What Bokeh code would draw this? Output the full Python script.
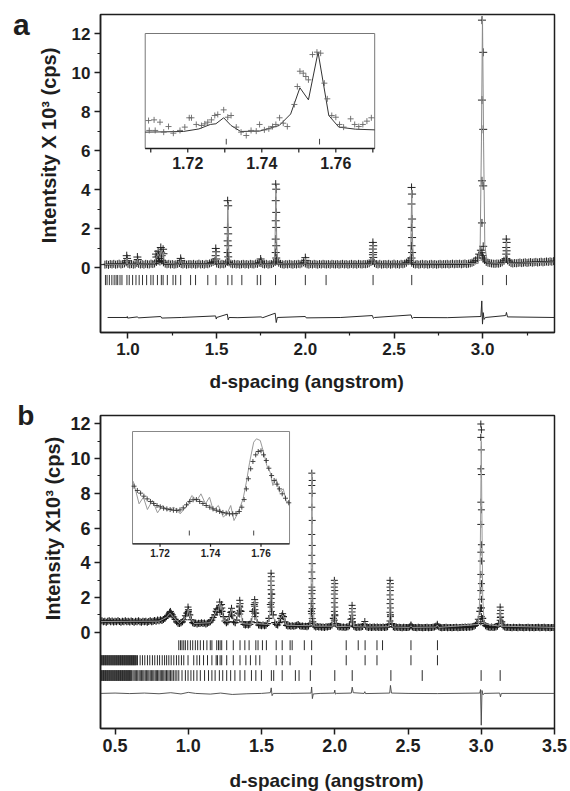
import math
from bokeh.plotting import figure
from bokeh.layouts import column
from bokeh.models import Range1d, FixedTicker, Label, PrintfTickFormatter
from bokeh.embed import file_html
from bokeh.resources import INLINE
from bokeh.core.properties import value

FONT = "Liberation Sans"
INK = "#1e1e1e"

# ============================ DATA : panel a ============================
a_grid_start = 0.87
a_grid_step = 0.01
a_obs_bg = [
    0.16, 0.18, 0.15, 0.19, 0.17, 0.20, 0.16, 0.18, 0.21, 0.17,
    0.19, 0.22, 0.28, 0.20, 0.17, 0.19, 0.16, 0.18, 0.24, 0.20,
    0.17, 0.19, 0.16, 0.20, 0.18, 0.17, 0.21, 0.19, 0.22, 0.30,
    0.36, 0.32, 0.38, 0.28, 0.21, 0.18, 0.20, 0.17, 0.19, 0.16,
    0.18, 0.20, 0.24, 0.19, 0.17, 0.20, 0.16, 0.18, 0.19, 0.17,
    0.20, 0.16, 0.18, 0.21, 0.17, 0.19, 0.16, 0.20, 0.18, 0.22,
    0.26, 0.30, 0.34, 0.22, 0.19, 0.17, 0.20, 0.18, 0.22, 0.30,
    0.28, 0.21, 0.18, 0.20, 0.17, 0.19, 0.16, 0.18, 0.20, 0.17,
    0.19, 0.16, 0.20, 0.18, 0.17, 0.21, 0.20, 0.26, 0.24, 0.19,
    0.17, 0.20, 0.16, 0.18, 0.19, 0.24, 0.30, 0.34, 0.26, 0.20,
    0.18, 0.16, 0.19, 0.17, 0.20, 0.18, 0.16, 0.19, 0.17, 0.20,
    0.18, 0.22, 0.28, 0.22, 0.18, 0.16, 0.19, 0.17, 0.20, 0.18,
    0.16, 0.19, 0.17, 0.20, 0.18, 0.17, 0.19, 0.16, 0.20, 0.18,
    0.17, 0.19, 0.16, 0.18, 0.20, 0.17, 0.19, 0.16, 0.18, 0.20,
    0.17, 0.19, 0.16, 0.20, 0.18, 0.17, 0.19, 0.18, 0.20, 0.23,
    0.30, 0.34, 0.24, 0.19, 0.17, 0.20, 0.16, 0.18, 0.19, 0.17,
    0.20, 0.16, 0.18, 0.21, 0.17, 0.19, 0.16, 0.20, 0.18, 0.21,
    0.26, 0.34, 0.38, 0.26, 0.20, 0.17, 0.19, 0.16, 0.18, 0.20,
    0.17, 0.19, 0.16, 0.18, 0.20, 0.17, 0.19, 0.16, 0.18, 0.20,
    0.17, 0.19, 0.18, 0.20, 0.17, 0.19, 0.21, 0.18, 0.20, 0.19,
    0.21, 0.18, 0.20, 0.22, 0.19, 0.21, 0.23, 0.26, 0.30, 0.38,
    0.50, 0.70, 0.90, 0.62, 0.40, 0.30, 0.26, 0.24, 0.22, 0.21,
    0.20, 0.22, 0.21, 0.24, 0.28, 0.36, 0.46, 0.38, 0.30, 0.24,
    0.22, 0.24, 0.23, 0.25, 0.27, 0.24, 0.26, 0.28, 0.25, 0.27,
    0.29, 0.26, 0.28, 0.30, 0.27, 0.29, 0.31, 0.28, 0.30, 0.32,
    0.30, 0.33, 0.31, 0.34,
]
a_obs_pk_d = [
    0.993, 0.995, 0.994,
    1.053, 1.055,
    1.158, 1.160, 1.170, 1.172, 1.178, 1.185, 1.187, 1.190, 1.198, 1.200,
    1.297, 1.299,
    1.495, 1.497, 1.494, 1.498,
    1.562, 1.565, 1.562, 1.565, 1.562, 1.565, 1.562, 1.565,
    1.748, 1.750,
    1.833, 1.836, 1.833, 1.836, 1.833, 1.836, 1.833, 1.836, 1.833, 1.836,
    2.000, 2.002,
    2.381, 2.383, 2.381, 2.383, 2.381, 2.383,
    2.599, 2.602, 2.599, 2.602, 2.599, 2.602, 2.599, 2.602, 2.599,
    2.996, 3.003, 2.996, 3.003, 2.996, 3.003, 2.996, 3.003, 2.996, 3.003,
    3.133, 3.135, 3.133, 3.135, 3.133, 3.135,
]
a_obs_pk_I = [
    0.62, 0.48, 0.36,
    0.55, 0.42,
    0.70, 0.55, 0.85, 0.60, 0.48, 1.04, 0.80, 0.62, 0.95, 0.72,
    0.48, 0.36,
    0.99, 0.82, 0.62, 0.45,
    3.44, 3.18, 2.07, 1.74, 1.38, 1.13, 0.78, 0.56,
    0.45, 0.34,
    4.29, 4.03, 3.44, 2.84, 2.41, 2.07, 1.47, 1.13, 0.78, 0.50,
    0.52, 0.38,
    1.30, 1.13, 0.96, 0.78, 0.67, 0.53,
    4.12, 3.78, 3.27, 2.50, 2.07, 1.55, 1.13, 0.78, 0.50,
    12.70, 11.05, 8.60, 7.10, 4.46, 4.20, 2.30, 1.10, 0.77, 0.50,
    1.47, 1.30, 1.04, 0.87, 0.70, 0.45,
]
a_calc_d = [0.87, 0.99, 0.994, 0.998, 1.05, 1.054, 1.058, 1.15, 1.16, 1.17, 1.18, 1.187,
            1.195, 1.20, 1.205, 1.29, 1.297, 1.303, 1.488, 1.496, 1.503, 1.553, 1.558,
            1.563, 1.568, 1.573, 1.745, 1.748, 1.751, 1.824, 1.829, 1.834, 1.839, 1.845,
            1.996, 2.000, 2.004, 2.373, 2.378, 2.382, 2.386, 2.392, 2.590, 2.595, 2.600,
            2.605, 2.612, 2.975, 2.986, 2.993, 2.999, 3.005, 3.012, 3.025, 3.125, 3.130,
            3.134, 3.138, 3.145, 3.40]
a_calc_I = [0.17, 0.18, 0.50, 0.18, 0.18, 0.45, 0.18, 0.20, 0.55, 0.70, 0.50, 0.90,
            0.60, 0.80, 0.22, 0.18, 0.42, 0.18, 0.18, 0.85, 0.18, 0.18, 1.00,
            3.30, 1.00, 0.20, 0.18, 0.40, 0.18, 0.18, 1.20, 4.20, 1.20, 0.20,
            0.18, 0.48, 0.18, 0.18, 0.50, 1.25, 0.50, 0.18, 0.20, 1.20, 4.00,
            1.20, 0.20, 0.22, 1.20, 6.50, 12.90, 6.50, 1.20, 0.25, 0.22, 0.60,
            1.35, 0.60, 0.22, 0.30]
a_diff_d = [0.885, 0.994, 0.996, 0.998, 1.054, 1.058, 1.185, 1.190, 1.300, 1.494, 1.498,
            1.500, 1.560, 1.565, 1.570, 1.620, 1.750, 1.760, 1.830, 1.836, 1.842, 2.000,
            2.005, 2.200, 2.378, 2.384, 2.390, 2.596, 2.602, 2.610, 2.800, 2.990, 2.995,
            2.999, 3.003, 3.008, 3.015, 3.130, 3.134, 3.140, 3.405]
a_diff_I = [-2.55, -2.55, -2.50, -2.58, -2.52, -2.57, -2.50, -2.58, -2.55, -2.47, -2.63,
            -2.55, -2.38, -2.67, -2.55, -2.56, -2.52, -2.56, -2.33, -2.81, -2.55, -2.50,
            -2.57, -2.55, -2.45, -2.60, -2.55, -2.42, -2.60, -2.55, -2.56, -2.50, -1.70,
            -2.89, -2.30, -2.65, -2.55, -2.45, -2.29, -2.52, -2.55]
a_refl = [0.873, 0.882, 0.895, 0.909, 0.922, 0.933, 0.942, 0.955, 0.966, 0.994, 1.007,
          1.026, 1.045, 1.063, 1.082, 1.105, 1.129, 1.142, 1.166, 1.188, 1.198, 1.222,
          1.254, 1.269, 1.297, 1.353, 1.381, 1.450, 1.496, 1.563, 1.586, 1.642, 1.729,
          1.748, 1.832, 2.000, 2.117, 2.382, 2.600, 3.000, 3.134]
a_xticks = [1.0, 1.5, 2.0, 2.5, 3.0]
a_xminor = [1.25, 1.75, 2.25, 2.75, 3.25]

# inset of panel a (d in angstrom, intensity in inset units 0..100)
a_in_xlim = (1.7085, 1.7705)
a_in_obs_d = [1.7094, 1.7096, 1.7109, 1.7112, 1.7125, 1.7135, 1.7148, 1.7161, 1.7179, 1.7192,
              1.7204, 1.7210, 1.7223, 1.7237, 1.7246, 1.7254, 1.7264, 1.7273, 1.7281, 1.7297,
              1.7308, 1.7317, 1.7331, 1.7344, 1.7358, 1.7371, 1.7385, 1.7394, 1.7407, 1.7419,
              1.7429, 1.7438, 1.7448, 1.7458, 1.7469, 1.7488, 1.7496, 1.7503, 1.7512, 1.7519,
              1.7526, 1.7537, 1.7549, 1.7559, 1.7569, 1.7577, 1.7589, 1.7600, 1.7610, 1.7621,
              1.7640, 1.7651, 1.7662, 1.7673, 1.7684, 1.7696]
a_in_obs_I = [24.3, 15.7, 24.9, 15.7, 22.9, 14.2, 19.1, 13.3, 15.7, 18.6,
              26.7, 26.7, 20.9, 20.0, 21.4, 22.9, 24.9, 28.7, 29.6, 33.6,
              27.2, 28.7, 18.6, 14.2, 11.3, 15.7, 15.1, 20.9, 16.2, 17.1,
              19.1, 20.9, 26.7, 22.0, 19.1, 38.3, 53.9, 67.2, 65.5, 62.6,
              59.7, 81.7, 83.8, 82.9, 56.8, 43.2, 28.7, 27.2, 20.9, 18.6,
              25.8, 20.9, 19.1, 20.9, 23.8, 26.7]
a_in_calc_d = [1.7085, 1.7188, 1.7230, 1.7261, 1.7276, 1.7297, 1.7317, 1.7343, 1.7395,
               1.7447, 1.7478, 1.7503, 1.7526, 1.7552, 1.7581, 1.7608, 1.7653, 1.7705]
a_in_calc_I = [14.2, 14.8, 17.0, 20.9, 21.5, 26.7, 20.0, 14.8, 15.2,
               20.0, 30.0, 52.8, 42.3, 83.8, 28.7, 18.6, 16.8, 16.2]
a_in_refl = [1.7304, 1.7556]
a_in_ticks = [1.72, 1.74, 1.76]
a_in_minor = [1.71, 1.73, 1.75, 1.77]

# ============================ DATA : panel b ============================
b_grid_start = 0.40
b_grid_step = 0.01
b_obs_bg = [
    0.62, 0.66, 0.60, 0.64, 0.58, 0.63, 0.67, 0.61, 0.65, 0.59,
    0.63, 0.60, 0.66, 0.62, 0.58, 0.64, 0.61, 0.67, 0.60, 0.63,
    0.59, 0.65, 0.62, 0.58, 0.64, 0.60, 0.66, 0.61, 0.57, 0.63,
    0.60, 0.64, 0.58, 0.62, 0.66, 0.60, 0.63, 0.68, 0.64, 0.70,
    0.66, 0.72, 0.68, 0.74, 0.80, 0.90, 0.98, 1.05, 1.08, 1.00,
    0.88, 0.74, 0.60, 0.52, 0.50, 0.55, 0.60, 0.72, 0.95, 1.10,
    1.20, 1.00, 0.72, 0.55, 0.50, 0.54, 0.48, 0.52, 0.50, 0.55,
    0.50, 0.53, 0.48, 0.52, 0.56, 0.60, 0.70, 0.85, 1.00, 1.20,
    1.30, 1.40, 1.35, 1.20, 0.90, 0.65, 0.55, 0.60, 0.90, 1.15,
    0.95, 0.60, 0.55, 0.70, 1.10, 1.50, 1.20, 0.60, 0.45, 0.42,
    0.45, 0.42, 0.46, 0.60, 1.20, 1.60, 1.10, 0.55, 0.42, 0.40,
    0.38, 0.42, 0.38, 0.40, 0.50, 0.80, 1.60, 2.20, 1.00, 0.55,
    0.45, 0.42, 0.55, 0.80, 0.95, 0.90, 0.60, 0.40, 0.36, 0.38,
    0.35, 0.38, 0.34, 0.37, 0.40, 0.45, 0.38, 0.34, 0.36, 0.33,
    0.35, 0.32, 0.36, 0.50, 1.20, 0.60, 0.36, 0.30, 0.33, 0.30,
    0.32, 0.29, 0.31, 0.28, 0.32, 0.30, 0.33, 0.35, 0.42, 0.80,
    1.00, 0.50, 0.35, 0.30, 0.32, 0.29, 0.31, 0.28, 0.30, 0.32,
    0.38, 0.75, 0.60, 0.34, 0.30, 0.28, 0.31, 0.29, 0.30, 0.33,
    0.45, 0.35, 0.30, 0.28, 0.30, 0.27, 0.29, 0.31, 0.28, 0.30,
    0.27, 0.29, 0.28, 0.30, 0.27, 0.29, 0.32, 0.45, 1.00, 0.50,
    0.32, 0.28, 0.30, 0.27, 0.29, 0.28, 0.26, 0.29, 0.27, 0.28,
    0.27, 0.30, 0.36, 0.30, 0.27, 0.28, 0.26, 0.29, 0.27, 0.28,
    0.26, 0.28, 0.27, 0.29, 0.26, 0.28, 0.27, 0.29, 0.30, 0.34,
    0.38, 0.32, 0.28, 0.26, 0.28, 0.27, 0.29, 0.26, 0.28, 0.27,
    0.26, 0.28, 0.27, 0.29, 0.26, 0.28, 0.27, 0.29, 0.28, 0.30,
    0.28, 0.30, 0.29, 0.31, 0.32, 0.35, 0.40, 0.50, 0.75, 1.20,
    1.40, 0.80, 0.50, 0.38, 0.32, 0.30, 0.28, 0.30, 0.27, 0.29,
    0.30, 0.34, 0.50, 0.85, 0.60, 0.36, 0.30, 0.28, 0.29, 0.27,
    0.28, 0.26, 0.29, 0.27, 0.28, 0.26, 0.29, 0.27, 0.28, 0.26,
    0.28, 0.27, 0.29, 0.26, 0.28, 0.27, 0.26, 0.28, 0.27, 0.29,
    0.26, 0.28, 0.27, 0.29, 0.26, 0.28, 0.27, 0.26, 0.28, 0.27,
    0.28,
]
b_obs_pk_d = [
    0.872, 0.878, 0.883,
    0.998, 1.001, 0.999,
    1.194, 1.196,
    1.214, 1.216, 1.214, 1.216,
    1.227, 1.229, 1.227,
    1.295, 1.297, 1.295,
    1.351, 1.353, 1.351, 1.353, 1.351,
    1.453, 1.455, 1.453, 1.455, 1.453, 1.455,
    1.565, 1.567, 1.565, 1.567, 1.565, 1.567, 1.565, 1.567, 1.565, 1.567,
    1.644, 1.646,
    1.843, 1.846, 1.843, 1.846, 1.843, 1.846, 1.843, 1.846, 1.843, 1.846,
    1.843, 1.846, 1.843, 1.846, 1.843, 1.846, 1.843, 1.846, 1.843, 1.846,
    1.997, 2.000, 1.997, 2.000, 1.997, 2.000, 1.997, 2.000, 1.997, 2.000, 1.997,
    2.118, 2.121, 2.118, 2.121, 2.118, 2.121,
    2.205,
    2.377, 2.380, 2.377, 2.380, 2.377, 2.380, 2.377, 2.380, 2.377, 2.380, 2.377,
    2.520,
    2.700,
    2.997, 3.001, 2.997, 3.001, 2.997, 3.001, 2.997, 3.001, 2.997, 3.001,
    2.997, 3.001, 2.997, 3.001, 2.997, 3.001, 2.997, 3.001, 2.997,
    3.129, 3.132, 3.129, 3.132, 3.129,
]
b_obs_pk_I = [
    1.15, 1.20, 1.10,
    1.45, 1.30, 1.12,
    1.35, 1.15,
    1.74, 1.55, 1.35, 1.15,
    1.60, 1.40, 1.20,
    1.38, 1.20, 1.00,
    1.84, 1.65, 1.45, 1.25, 1.05,
    1.88, 1.70, 1.50, 1.30, 1.10, 0.90,
    3.40, 3.20, 2.95, 2.70, 2.45, 2.20, 1.95, 1.70, 1.45, 1.20,
    1.07, 0.90,
    9.16, 8.74, 8.45, 8.00, 7.20, 6.44, 5.63, 5.00, 4.43, 3.95,
    3.47, 3.09, 2.60, 2.41, 2.22, 1.94, 1.65, 1.36, 1.07, 0.79,
    2.99, 2.80, 2.60, 2.40, 2.20, 1.95, 1.70, 1.45, 1.20, 0.95, 0.70,
    1.55, 1.36, 1.17, 0.98, 0.79, 0.59,
    0.62,
    2.99, 2.80, 2.60, 2.40, 2.15, 1.90, 1.65, 1.40, 1.15, 0.90, 0.65,
    0.42,
    0.46,
    11.99, 11.65, 11.22, 10.50, 9.41, 9.08, 7.49, 7.05, 6.21, 5.04,
    4.61, 4.10, 3.33, 2.80, 2.40, 1.90, 1.40, 0.90, 0.60,
    1.45, 1.26, 1.07, 0.88, 0.69,
]
b_calc_d = [0.40, 0.80, 0.85, 0.875, 0.90, 0.94, 0.99, 1.00, 1.01, 1.04, 1.15, 1.19, 1.195,
            1.205, 1.215, 1.222, 1.228, 1.24, 1.27, 1.296, 1.31, 1.33, 1.352, 1.37, 1.43,
            1.454, 1.47, 1.54, 1.556, 1.566, 1.576, 1.60, 1.645, 1.67, 1.83, 1.838, 1.844,
            1.85, 1.86, 1.985, 1.992, 1.997, 2.003, 2.012, 2.11, 2.119, 2.128, 2.20, 2.205,
            2.21, 2.37, 2.374, 2.379, 2.385, 2.394, 2.51, 2.52, 2.53, 2.69, 2.70, 2.71,
            2.98, 2.99, 2.996, 3.00, 3.004, 3.01, 3.02, 3.122, 3.13, 3.138, 3.50]
b_calc_I = [0.62, 0.64, 0.85, 1.10, 0.85, 0.52, 0.90, 1.35, 0.90, 0.50, 0.55, 1.20, 1.30,
            1.20, 1.70, 1.30, 1.55, 0.70, 0.60, 1.35, 0.70, 0.60, 1.80, 0.50, 0.45,
            1.85, 0.50, 0.45, 1.00, 3.30, 1.00, 0.45, 1.00, 0.40, 0.38, 2.00, 9.20,
            2.00, 0.35, 0.35, 1.00, 3.00, 1.00, 0.32, 0.35, 1.50, 0.33, 0.30, 0.60,
            0.30, 0.32, 1.00, 2.90, 1.00, 0.30, 0.28, 0.38, 0.28, 0.30, 0.42, 0.28,
            0.45, 2.00, 7.00, 11.00, 7.00, 2.00, 0.50, 0.35, 1.40, 0.35, 0.28]
b_diff_d = [0.40, 0.50, 0.60, 0.70, 0.80, 0.88, 0.95, 1.00, 1.05, 1.15, 1.22, 1.30, 1.40,
            1.50, 1.56, 1.566, 1.572, 1.58, 1.70, 1.838, 1.842, 1.847, 1.853, 1.90, 1.996,
            2.000, 2.004, 2.010, 2.113, 2.119, 2.126, 2.20, 2.205, 2.21, 2.375, 2.380,
            2.387, 2.50, 2.70, 2.99, 2.995, 3.000, 3.005, 3.012, 3.02, 3.126, 3.131,
            3.137, 3.50]
b_diff_I = [-3.52, -3.50, -3.53, -3.50, -3.54, -3.48, -3.55, -3.46, -3.52, -3.56, -3.50,
            -3.58, -3.54, -3.52, -3.48, -3.20, -3.65, -3.52, -3.52, -3.50, -3.15, -3.82,
            -3.55, -3.52, -3.50, -3.33, -3.56, -3.52, -3.50, -3.16, -3.48, -3.52, -3.42,
            -3.53, -3.50, -3.06, -3.50, -3.52, -3.53, -3.50, -3.30, -5.35, -3.35, -3.60,
            -3.52, -3.50, -3.72, -3.52, -3.52]
b_refl_1 = [0.935, 0.947, 0.957, 0.969, 0.980, 0.996, 1.014, 1.030, 1.048, 1.064, 1.082,
            1.104, 1.127, 1.150, 1.161, 1.194, 1.206, 1.217, 1.228, 1.262, 1.307, 1.353,
            1.386, 1.415, 1.461, 1.476, 1.506, 1.533, 1.600, 1.641, 1.695, 1.709, 1.792,
            1.842, 2.078, 2.160, 2.207, 2.288, 2.326, 2.520, 2.701]
b_refl_2 = [0.402, 0.407, 0.411, 0.416, 0.421, 0.425, 0.430, 0.435, 0.439, 0.444, 0.449,
            0.453, 0.458, 0.463, 0.467, 0.472, 0.477, 0.481, 0.486, 0.491, 0.495, 0.500,
            0.505, 0.509, 0.514, 0.519, 0.523, 0.528, 0.533, 0.537, 0.542, 0.547, 0.551,
            0.556, 0.561, 0.565, 0.570, 0.575, 0.579, 0.584, 0.589, 0.593, 0.598, 0.603,
            0.607, 0.612, 0.617, 0.621, 0.626, 0.631, 0.635, 0.640, 0.645,
            0.653, 0.671, 0.687, 0.703, 0.721, 0.737, 0.755, 0.771, 0.789, 0.804, 0.822,
            0.838, 0.852, 0.867, 0.883, 0.901, 0.919, 0.935, 0.953, 0.969, 0.998, 1.037,
            1.059, 1.077, 1.104, 1.131, 1.161, 1.190, 1.199, 1.217, 1.228, 1.262, 1.307,
            1.353, 1.393, 1.424, 1.461, 1.488, 1.600, 1.641, 1.695, 1.842, 2.078, 2.207,
            2.288, 2.520, 2.701]
b_refl_3 = [0.402, 0.407, 0.411, 0.416, 0.421, 0.425, 0.430, 0.435, 0.439, 0.444, 0.449,
            0.453, 0.458, 0.463, 0.467, 0.472, 0.477, 0.481, 0.486, 0.491, 0.495, 0.500,
            0.505, 0.509, 0.514, 0.519, 0.523, 0.528, 0.533, 0.537, 0.542, 0.547, 0.551,
            0.556, 0.561, 0.565, 0.570, 0.575, 0.579, 0.584, 0.589, 0.593, 0.598, 0.603,
            0.607, 0.613, 0.622, 0.630, 0.638, 0.647, 0.655, 0.664, 0.672, 0.681, 0.689,
            0.697, 0.706, 0.714, 0.723, 0.731, 0.740, 0.748, 0.757, 0.765, 0.774, 0.782,
            0.790, 0.799, 0.808, 0.816, 0.825, 0.833, 0.842, 0.851, 0.860, 0.869, 0.878,
            0.888, 0.898, 0.910, 0.922, 0.935, 0.957, 0.980, 0.998, 1.018, 1.037, 1.059,
            1.082, 1.111, 1.138, 1.161, 1.183, 1.212, 1.235, 1.262, 1.289, 1.318, 1.353,
            1.386, 1.431, 1.461, 1.499, 1.567, 1.583, 1.641, 1.731, 1.756, 1.833, 2.000,
            2.119, 2.383, 2.597, 2.999, 3.129]
b_xticks = [0.5, 1.0, 1.5, 2.0, 2.5, 3.0, 3.5]

b_in_xlim = (1.7091, 1.7713)
b_in_obs_d = [1.7097, 1.7110, 1.7123, 1.7136, 1.7149, 1.7162, 1.7175, 1.7188, 1.7201, 1.7214,
              1.7227, 1.7240, 1.7253, 1.7266, 1.7279, 1.7292, 1.7305, 1.7318, 1.7331, 1.7344,
              1.7357, 1.7370, 1.7383, 1.7397, 1.7410, 1.7423, 1.7436, 1.7449, 1.7462, 1.7475,
              1.7488, 1.7501, 1.7514, 1.7524, 1.7533, 1.7542, 1.7550, 1.7559, 1.7568, 1.7579,
              1.7589, 1.7600, 1.7610, 1.7621, 1.7631, 1.7642, 1.7652, 1.7663, 1.7673, 1.7684,
              1.7697, 1.7710]
b_in_obs_I = [51.3, 47.5, 45.1, 42.4, 40.0, 37.7, 35.9, 34.1, 32.9, 31.7,
              31.1, 30.5, 29.9, 29.7, 30.2, 32.0, 34.7, 37.7, 39.2, 39.4,
              37.7, 35.9, 34.1, 32.6, 31.1, 29.9, 28.8, 27.9, 27.3, 26.7,
              26.7, 27.0, 28.8, 32.6, 39.4, 48.9, 57.9, 66.8, 73.3, 79.2,
              82.2, 82.8, 79.2, 74.2, 67.3, 60.8, 56.4, 53.1, 48.9, 44.5,
              40.6, 36.5]
b_in_calc_d = [1.7094, 1.7117, 1.7134, 1.7150, 1.7170, 1.7190, 1.7209, 1.7229, 1.7255, 1.7280,
               1.7307, 1.7326, 1.7346, 1.7362, 1.7380, 1.7396, 1.7411, 1.7431, 1.7451, 1.7467,
               1.7480, 1.7493, 1.7509, 1.7529, 1.7542, 1.7555, 1.7571, 1.7582, 1.7597, 1.7610,
               1.7623, 1.7636, 1.7647, 1.7660, 1.7673, 1.7688, 1.7701, 1.7712]
b_in_calc_I = [55.7, 35.6, 41.5, 30.5, 38.6, 27.6, 34.1, 29.7, 32.6, 26.7,
               34.1, 43.0, 38.6, 44.5, 35.6, 41.5, 29.7, 34.1, 23.7, 27.6,
               34.1, 20.7, 27.6, 40.0, 54.9, 72.7, 90.5, 93.5, 92.0, 81.6,
               69.7, 63.8, 51.9, 57.9, 46.0, 49.0, 37.0, 38.6]
b_in_refl = [1.7316, 1.7571]
b_in_ticks = [1.72, 1.74, 1.76]
b_in_minor = []

y_ticks = [0, 2, 4, 6, 8, 10, 12]
y_minor = [1, 3, 5, 7, 9, 11]


# ============================ helpers ============================
def grid(start, step, n):
    return [round(start + i * step, 4) for i in range(n)]


def inset_range(f_lo, f_hi, b_lo, b_hi, l_lo, l_hi):
    k = (b_hi - b_lo) / (l_hi - l_lo)
    return Range1d(l_lo - (b_lo - f_lo) / k, l_hi + (f_hi - b_hi) / k)


def style(p, xticks, xminor, tick_fs):
    for ax in (p.xaxis[0], p.yaxis[0]):
        ax.axis_line_color = INK
        ax.axis_line_width = 1.5
        ax.major_tick_line_color = INK
        ax.major_tick_line_width = 1.5
        ax.minor_tick_line_color = INK
        ax.minor_tick_line_width = 1.2
        ax.major_tick_out = 6
        ax.major_tick_in = 0
        ax.minor_tick_out = 3
        ax.minor_tick_in = 0
        ax.major_label_text_font = FONT
        ax.major_label_text_font_size = tick_fs
        ax.major_label_text_font_style = "bold"
        ax.major_label_text_color = INK
        ax.major_label_standoff = 4
    p.xaxis.ticker = FixedTicker(ticks=xticks, minor_ticks=xminor)
    p.yaxis.ticker = FixedTicker(ticks=y_ticks, minor_ticks=y_minor)
    p.xaxis.formatter = PrintfTickFormatter(format="%.1f")
    p.yaxis.formatter = PrintfTickFormatter(format="%d")
    p.xgrid.visible = False
    p.ygrid.visible = False
    p.outline_line_color = INK
    p.outline_line_width = 1.5


def outer_label(p, side, frame, xr, yr, cx, cy, text, size, angle=0.0,
                align="center", baseline="middle"):
    """Text outside the frame, positioned through the plot's own scales.
    frame = (left, right, top, bottom) canvas px; cx, cy = canvas px."""
    fl, fr, ft, fb = frame
    x = xr[0] + (cx - fl) / (fr - fl) * (xr[1] - xr[0])
    y = yr[0] + (fb - cy) / (fb - ft) * (yr[1] - yr[0])
    p.add_layout(Label(x=x, y=y, x_units="data", y_units="data", text=text, angle=angle,
                       text_align=align, text_baseline=baseline, text_font=FONT,
                       text_font_size=size, text_font_style="bold", text_color=INK), side)


def draw_inset(p, lim, obs_d, obs_I, calc_d, calc_I, refl, refl_y, ticks, minor,
               tick_len, label_y, fs, obs_size, obs_color, calc_color, box_color):
    kw = dict(x_range_name="ix", y_range_name="iy")
    p.quad(left=[lim[0]], right=[lim[1]], bottom=[0], top=[100], fill_color="white",
           line_color=box_color, line_width=1, **kw)
    p.line(calc_d, calc_I, line_color=calc_color, line_width=1, **kw)
    p.scatter(obs_d, obs_I, marker="cross", size=obs_size, line_color=obs_color,
              line_width=0.9, **kw)
    p.segment(x0=refl, y0=[refl_y[0]] * len(refl), x1=refl, y1=[refl_y[1]] * len(refl),
              line_color="#444", line_width=1, **kw)
    p.segment(x0=[lim[0]], y0=[0], x1=[lim[1]], y1=[0], line_color=INK, line_width=1.3, **kw)
    allt = list(ticks) + list(minor)
    p.segment(x0=allt, y0=[0] * len(allt), x1=allt, y1=[-tick_len] * len(allt),
              line_color=INK, line_width=1.2, **kw)
    p.text(x=ticks, y=[label_y] * len(ticks), text=["%.2f" % t for t in ticks],
           text_align="center", text_baseline="middle", text_font=value(FONT),
           text_font_size=value(fs), text_font_style="bold", text_color=INK, **kw)


# ============================ panel a ============================
A_FRAME = (100, 557, 14, 332)  # left, right, top, bottom (canvas px == page px)
A_XR, A_YR = (0.845, 3.405), (-3.32, 12.99)
A_W, A_H = 570, 393
pa = figure(width=A_W, height=A_H, x_range=Range1d(*A_XR), y_range=Range1d(*A_YR),
            output_backend="svg", toolbar_location=None,
            min_border_left=100, min_border_right=13, min_border_top=14,
            min_border_bottom=A_H - A_FRAME[3])
style(pa, a_xticks, a_xminor, "17px")
pa.extra_x_ranges = {"ix": inset_range(A_FRAME[0], A_FRAME[1], 145, 376, *a_in_xlim)}
pa.extra_y_ranges = {"iy": inset_range(-A_FRAME[3], -A_FRAME[2], -148, -33, 0, 100)}

a_grid_d = grid(a_grid_start, a_grid_step, len(a_obs_bg))
pa.segment(x0=a_refl, y0=[-0.89] * len(a_refl), x1=a_refl, y1=[-0.37] * len(a_refl),
           line_color="#333", line_width=1)
pa.line(a_diff_d, a_diff_I, line_color="#2a2a2a", line_width=1)
pa.scatter(a_grid_d, a_obs_bg, marker="cross", size=8, line_color="#222", line_width=1)
pa.scatter(a_obs_pk_d, a_obs_pk_I, marker="cross", size=8, line_color="#222", line_width=1)
pa.line(a_calc_d, a_calc_I, line_color="#8a8a8a", line_width=1)
draw_inset(pa, a_in_xlim, a_in_obs_d, a_in_obs_I, a_in_calc_d, a_in_calc_I, a_in_refl,
           (3.5, 8.4), a_in_ticks, a_in_minor, 3.5, -12.6, "16px", 6, "#666", "#333", "#777")

outer_label(pa, "left", A_FRAME, A_XR, A_YR, 12, 24, "a", "30px", align="left",
            baseline="alphabetic")
outer_label(pa, "left", A_FRAME, A_XR, A_YR, 48, 145, "Intentsity X 10³ (cps)", "20px",
            angle=math.pi / 2)
outer_label(pa, "below", A_FRAME, A_XR, A_YR, 307.5, 380.5, "d-spacing (angstrom)", "19px")

# ============================ panel b ============================
B_TOP = 393                       # page y where the panel-b canvas starts
B_H = 791 - B_TOP
B_FRAME = (96, 554, 415 - B_TOP, 728 - B_TOP)  # canvas px
B_XR, B_YR = (0.4005, 3.5), (-5.54, 12.48)
B_W = 570
pb = figure(width=B_W, height=B_H, x_range=Range1d(*B_XR), y_range=Range1d(*B_YR),
            output_backend="svg", toolbar_location=None,
            min_border_left=96, min_border_right=16, min_border_top=B_FRAME[2],
            min_border_bottom=B_H - B_FRAME[3])
style(pb, b_xticks, [], "18px")
pb.extra_x_ranges = {"ix": inset_range(B_FRAME[0], B_FRAME[1], 128.3, 286.7, *b_in_xlim)}
pb.extra_y_ranges = {"iy": inset_range(-B_FRAME[3], -B_FRAME[2], -(543.3 - B_TOP),
                                       -(431 - B_TOP), 0, 100)}

b_grid_d = grid(b_grid_start, b_grid_step, len(b_obs_bg))
for refl, (lo, hi) in ((b_refl_1, (-1.03, -0.46)), (b_refl_2, (-1.90, -1.32)),
                       (b_refl_3, (-2.80, -2.18))):
    pb.segment(x0=refl, y0=[lo] * len(refl), x1=refl, y1=[hi] * len(refl),
               line_color="#2a2a2a", line_width=1)
pb.line(b_diff_d, b_diff_I, line_color="#444", line_width=0.9)
pb.scatter(b_grid_d, b_obs_bg, marker="cross", size=7, line_color="#1a1a1a", line_width=1.2)
pb.scatter(b_obs_pk_d, b_obs_pk_I, marker="cross", size=7, line_color="#222", line_width=1)
pb.line(b_calc_d, b_calc_I, line_color="#999", line_width=1)
draw_inset(pb, b_in_xlim, b_in_obs_d, b_in_obs_I, b_in_calc_d, b_in_calc_I, b_in_refl,
           (7.4, 11.8), b_in_ticks, b_in_minor, 2.7, -8.6, "10px", 5, "#333", "#999", "#888")

outer_label(pb, "left", B_FRAME, B_XR, B_YR, 12, 415 - B_TOP, "b", "28px", align="left",
            baseline="alphabetic")
outer_label(pb, "left", B_FRAME, B_XR, B_YR, 48, 528 - B_TOP, "Intensity X10³ (cps)", "20px",
            angle=math.pi / 2)
outer_label(pb, "below", B_FRAME, B_XR, B_YR, 324, 779.5 - B_TOP, "d-spacing (angstrom)",
            "19px")

layout = column(pa, pb, spacing=0)
open("out.html", "w").write(file_html(layout, INLINE))
